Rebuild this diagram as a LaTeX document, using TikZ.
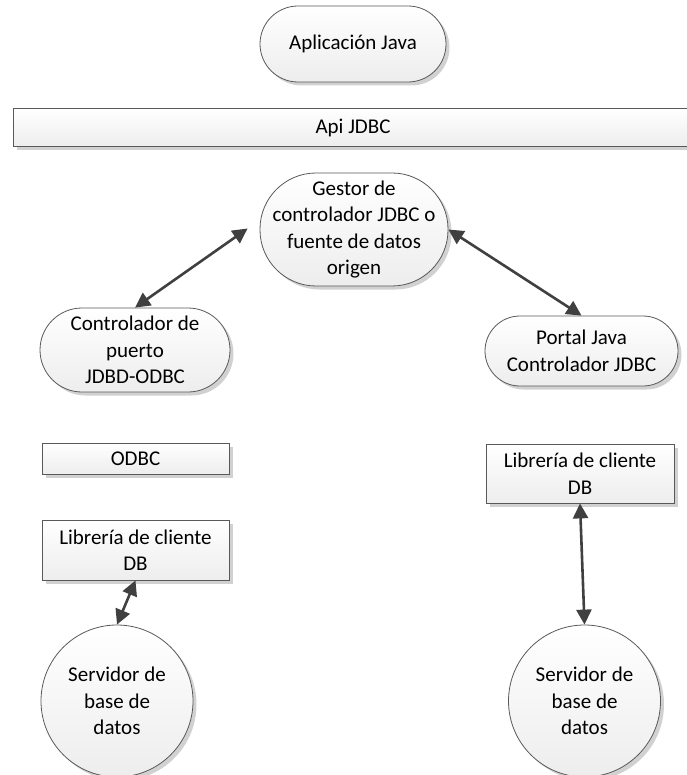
\documentclass[tikz,border=0pt]{standalone}
\usepackage{fontspec}
\setmainfont{Carlito}
\usetikzlibrary{shadows,arrows.meta,calc}

\tikzset{
  shape base/.style={draw=black!65, line width=0.8pt,
    top color=white, bottom color=black!7,
    drop shadow={shadow xshift=3.5pt, shadow yshift=-3.5pt, fill=black, opacity=0.18},
    align=center, inner sep=2pt,
    font=\fontsize{21}{26.5}\selectfont},
  pill/.style={shape base, rectangle, rounded corners=#1},
  boxnode/.style={shape base, rectangle, rounded corners=0pt},
  roundnode/.style={shape base, circle, minimum size=152pt},
  link/.style={draw=black!75, line width=2.6pt,
    {Triangle[length=15pt,width=15pt]}-{Triangle[length=15pt,width=15pt]}}
}

\begin{document}
\begin{tikzpicture}[x=1pt,y=-1pt]
  \useasboundingbox (0,0) rectangle (686,775);

  % application layer and JDBC API
  \node[pill=38pt, minimum width=186pt, minimum height=76pt] (app) at (353,44) {Aplicación Java};
  \node[boxnode, minimum width=680pt, minimum height=38pt] (api) at (353,127.5) {Api JDBC};

  % driver manager
  \node[pill=56pt, minimum width=188pt, minimum height=113pt] (mgr) at (354,229.5)
    {Gestor de\\controlador JDBC o\\fuente de datos\\origen};

  % left branch: JDBC-ODBC bridge
  \node[pill=42pt, minimum width=190pt, minimum height=84pt] (bridge) at (135,350)
    {Controlador de\\puerto\\JDBD-ODBC};
  \node[boxnode, minimum width=187pt, minimum height=31pt] (odbc) at (135.5,458.5) {ODBC};
  \node[boxnode, minimum width=187pt, minimum height=60pt] (libL) at (135.5,550) {Librería de cliente\\DB};
  \node[roundnode] (srvL) at (117,701) {Servidor de\\base de\\datos};

  % right branch: pure Java driver
  \node[pill=35pt, minimum width=193pt, minimum height=70pt] (portal) at (581.5,351)
    {Portal Java\\Controlador JDBC};
  \node[boxnode, minimum width=188pt, minimum height=59pt] (libR) at (580,473.5) {Librería de cliente\\DB};
  \node[roundnode] (srvR) at (584.5,701) {Servidor de\\base de\\datos};

  % connections
  \coordinate (mgrL) at ($(mgr.west)+(-12,-1)$);
  \draw[link] (bridge.north) -- (mgrL);
  \draw[link] (mgr.east) -- (portal.north);
  \draw[link] (libL.south) -- (srvL.north);
  \draw[link] (libR.south) -- (srvR.north);
\end{tikzpicture}
\end{document}
